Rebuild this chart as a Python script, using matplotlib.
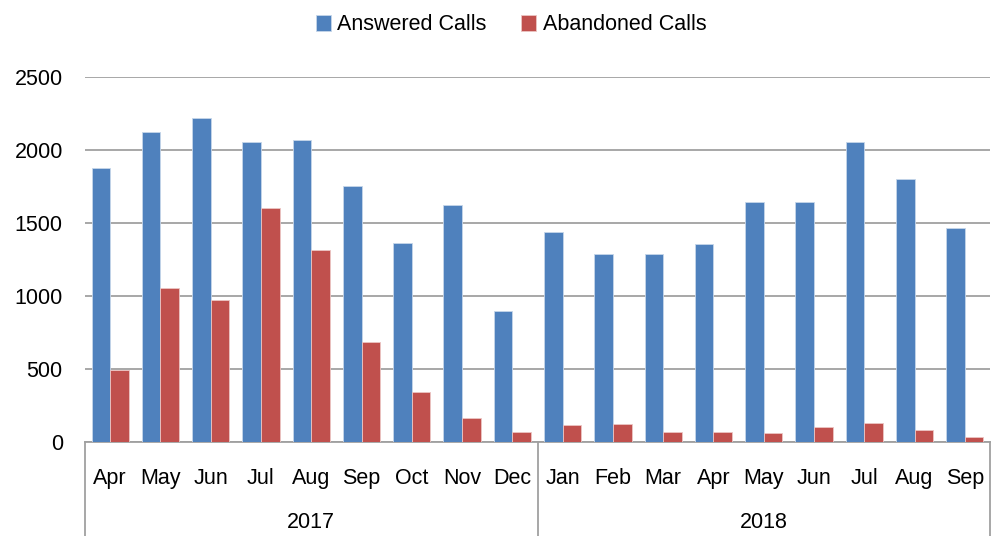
import numpy as np
import matplotlib
matplotlib.use("Agg")
import matplotlib.pyplot as plt
from matplotlib.transforms import blended_transform_factory

plt.rcParams['font.family'] = ['Liberation Sans', 'DejaVu Sans']

months = ["Apr", "May", "Jun", "Jul", "Aug", "Sep", "Oct", "Nov", "Dec",
          "Jan", "Feb", "Mar", "Apr", "May", "Jun", "Jul", "Aug", "Sep"]
years = ["2017", "2018"]
months_per_year = [9, 9]

answered = [1880, 2125, 2220, 2055, 2070, 1750, 1360, 1625, 895,
            1440, 1290, 1290, 1355, 1645, 1645, 2055, 1800, 1465]
abandoned = [495, 1055, 975, 1605, 1315, 685, 345, 165, 68,
             115, 125, 70, 70, 62, 105, 132, 80, 35]

blue = "#4F81BD"
red = "#C0504D"
grid_col = "#a0a0a0"

fig = plt.figure(figsize=(9.92, 5.36), dpi=100)
ax = fig.add_axes([85 / 992, 94 / 536, 905 / 992, 365 / 536])

x = np.arange(len(months))
w = 0.37
ax.bar(x - w / 2, answered, w, color=blue, edgecolor="#c6d6ea", linewidth=0.6,
       label="Answered Calls", zorder=3)
ax.bar(x + w / 2, abandoned, w, color=red, edgecolor="#ecc5c4", linewidth=0.6,
       label="Abandoned Calls", zorder=3)

ax.set_xlim(-0.5, len(months) - 0.5)
ax.set_ylim(0, 2500)
ax.set_yticks(np.arange(0, 2501, 500))
ax.yaxis.grid(True, color=grid_col, linewidth=1.3)
ax.set_axisbelow(True)
for s in ["top", "right", "left"]:
    ax.spines[s].set_visible(False)
ax.spines["bottom"].set_color(grid_col)
ax.spines["bottom"].set_linewidth(1.3)

ax.set_xticks(x)
ax.set_xticklabels(months, fontsize=15.5)
ax.tick_params(axis="x", length=0, pad=19)
ax.tick_params(axis="y", length=0, pad=16, labelsize=15.5)

# year groups under the month labels
trans = blended_transform_factory(ax.transData, ax.transAxes)
edges = np.concatenate([[0], np.cumsum(months_per_year)]) - 0.5
for xe in edges:
    ax.plot([xe, xe], [0, -94 / 365], color=grid_col, linewidth=1.3,
            transform=trans, clip_on=False)
for yr, lo, hi in zip(years, edges[:-1], edges[1:]):
    ax.text((lo + hi) / 2, -81 / 365, yr, transform=trans, ha="center",
            va="center", fontsize=15.5)

fig.legend(loc="center", bbox_to_anchor=(511 / 992, 1 - 25 / 536), ncol=2,
           frameon=False, fontsize=15.5, handlelength=0.7, handleheight=0.7,
           handletextpad=0.3, columnspacing=1.6)

fig.savefig("out.png", dpi=100)
